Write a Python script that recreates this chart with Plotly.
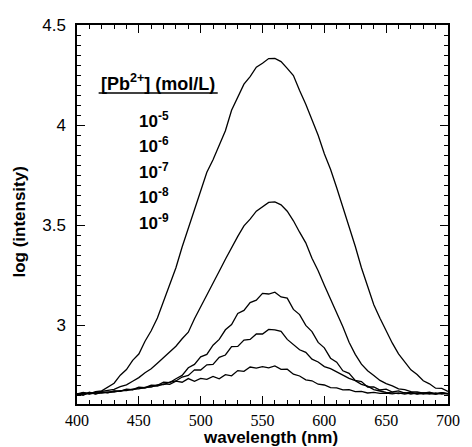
import plotly.graph_objects as go

# wavelength grid (nm)
wavelength = list(range(400, 705, 5))

# log(intensity), one list per Pb2+ concentration
pb_1e5 = [2.655, 2.663, 2.656, 2.667, 2.671, 2.692, 2.709, 2.749, 2.777, 2.823,
          2.855, 2.919, 2.971, 3.035, 3.116, 3.205, 3.286, 3.390, 3.486, 3.579,
          3.677, 3.764, 3.826, 3.895, 3.971, 4.074, 4.136, 4.204, 4.242, 4.289,
          4.309, 4.332, 4.333, 4.317, 4.283, 4.247, 4.172, 4.104, 4.026, 3.949,
          3.856, 3.779, 3.686, 3.594, 3.491, 3.394, 3.286, 3.194, 3.101, 3.034,
          2.968, 2.909, 2.856, 2.814, 2.776, 2.752, 2.721, 2.706, 2.684, 2.683,
          2.668]
pb_1e6 = [2.652, 2.660, 2.658, 2.663, 2.667, 2.674, 2.678, 2.692, 2.701, 2.719,
          2.737, 2.761, 2.781, 2.809, 2.836, 2.867, 2.894, 2.931, 2.964, 3.031,
          3.089, 3.151, 3.204, 3.269, 3.329, 3.388, 3.443, 3.496, 3.529, 3.569,
          3.591, 3.613, 3.616, 3.601, 3.569, 3.521, 3.464, 3.411, 3.334, 3.271,
          3.199, 3.131, 3.061, 2.991, 2.914, 2.853, 2.804, 2.771, 2.747, 2.723,
          2.707, 2.696, 2.681, 2.677, 2.667, 2.665, 2.659, 2.664, 2.656, 2.662,
          2.657]
pb_1e7 = [2.655, 2.650, 2.662, 2.656, 2.665, 2.662, 2.671, 2.669, 2.679, 2.677,
          2.689, 2.687, 2.699, 2.698, 2.714, 2.712, 2.731, 2.748, 2.786, 2.803,
          2.841, 2.853, 2.899, 2.928, 2.976, 3.002, 3.058, 3.073, 3.112, 3.124,
          3.158, 3.155, 3.164, 3.140, 3.134, 3.078, 3.052, 2.998, 2.967, 2.913,
          2.886, 2.834, 2.814, 2.771, 2.758, 2.723, 2.717, 2.690, 2.690, 2.675,
          2.679, 2.665, 2.671, 2.659, 2.664, 2.656, 2.660, 2.660, 2.654, 2.662,
          2.656]
pb_1e8 = [2.653, 2.659, 2.655, 2.661, 2.660, 2.666, 2.664, 2.672, 2.672, 2.679,
          2.681, 2.688, 2.690, 2.701, 2.702, 2.714, 2.720, 2.740, 2.748, 2.776,
          2.775, 2.801, 2.803, 2.838, 2.850, 2.892, 2.893, 2.925, 2.928, 2.955,
          2.955, 2.978, 2.976, 2.968, 2.928, 2.903, 2.876, 2.863, 2.829, 2.815,
          2.792, 2.782, 2.765, 2.752, 2.733, 2.722, 2.703, 2.694, 2.677, 2.670,
          2.663, 2.661, 2.657, 2.662, 2.655, 2.661, 2.654, 2.660, 2.655, 2.659,
          2.656]
pb_1e9 = [2.656, 2.650, 2.664, 2.655, 2.663, 2.661, 2.669, 2.668, 2.677, 2.676,
          2.686, 2.684, 2.695, 2.694, 2.706, 2.703, 2.719, 2.714, 2.732, 2.718,
          2.733, 2.728, 2.743, 2.731, 2.752, 2.746, 2.772, 2.768, 2.790, 2.784,
          2.792, 2.786, 2.795, 2.778, 2.779, 2.754, 2.745, 2.726, 2.721, 2.704,
          2.700, 2.687, 2.686, 2.676, 2.677, 2.667, 2.668, 2.660, 2.663, 2.658,
          2.660, 2.656, 2.661, 2.654, 2.661, 2.655, 2.660, 2.654, 2.660, 2.655,
          2.658]

legend_title = "<b>[Pb<sup>2+</sup>] (mol/L)</b>"
legend_labels = ["10<sup>-5</sup>", "10<sup>-6</sup>", "10<sup>-7</sup>",
                 "10<sup>-8</sup>", "10<sup>-9</sup>"]

SANS = "Liberation Sans, Arial, sans-serif"
SERIF = "Liberation Serif, Times New Roman, serif"

fig = go.Figure()
for ys in [pb_1e5, pb_1e6, pb_1e7, pb_1e8, pb_1e9]:
    fig.add_trace(go.Scatter(x=wavelength, y=ys, mode="lines",
                             line=dict(color="black", width=1.3),
                             showlegend=False, hoverinfo="skip"))

axis_common = dict(
    showline=True, linecolor="black", linewidth=1.5, mirror="allticks",
    ticks="inside", ticklen=8, tickwidth=1, tickcolor="black",
    showgrid=False, zeroline=False,
)
fig.update_xaxes(range=[400, 700], dtick=50, tick0=400,
                 tickfont=dict(family=SERIF, size=16, color="black"),
                 ticklabelstandoff=1,
                 minor=dict(ticks="inside", ticklen=4, dtick=10, tickcolor="black"),
                 **axis_common)
fig.update_yaxes(range=[2.605, 4.5], tickvals=[3, 3.5, 4, 4.5],
                 ticktext=["3", "3.5", "4", "4.5"],
                 tickfont=dict(family=SANS, size=17, color="black"),
                 ticklabelstandoff=6,
                 minor=dict(ticks="inside", ticklen=4, dtick=0.05, tick0=3,
                            tickcolor="black"),
                 **axis_common)

anns = [
    dict(text="<b>log (intensity)</b>", xref="paper", yref="paper",
         x=-0.155, y=0.48, xanchor="center", yanchor="middle",
         textangle=-90, showarrow=False,
         font=dict(family=SANS, size=17, color="black")),
    dict(text="<b>wavelength (nm)</b>", xref="paper", yref="paper",
         x=0.521, y=-0.089, xanchor="center", yanchor="middle", showarrow=False,
         font=dict(family=SANS, size=17, color="black")),
    dict(text=legend_title, xref="x", yref="y", x=465.5, y=4.215,
         showarrow=False, font=dict(family=SANS, size=18, color="black")),
]
for i, lab in enumerate(legend_labels):
    anns.append(dict(text="<b>" + lab + "</b>", xref="x", yref="y",
                     x=462.5, y=4.027 - i * 0.128, showarrow=False,
                     font=dict(family=SANS, size=17, color="black")))

fig.update_layout(
    width=472, height=447,
    margin=dict(l=77, r=15, t=25, b=43),
    paper_bgcolor="white", plot_bgcolor="white",
    annotations=anns,
    shapes=[dict(type="line", xref="x", yref="y", x0=417.5, x1=513.8,
                 y0=4.16, y1=4.16, line=dict(color="black", width=1.5))],
)

fig.write_html("out.html", config={"displayModeBar": False},
               post_script="document.body.style.margin='0px';")
